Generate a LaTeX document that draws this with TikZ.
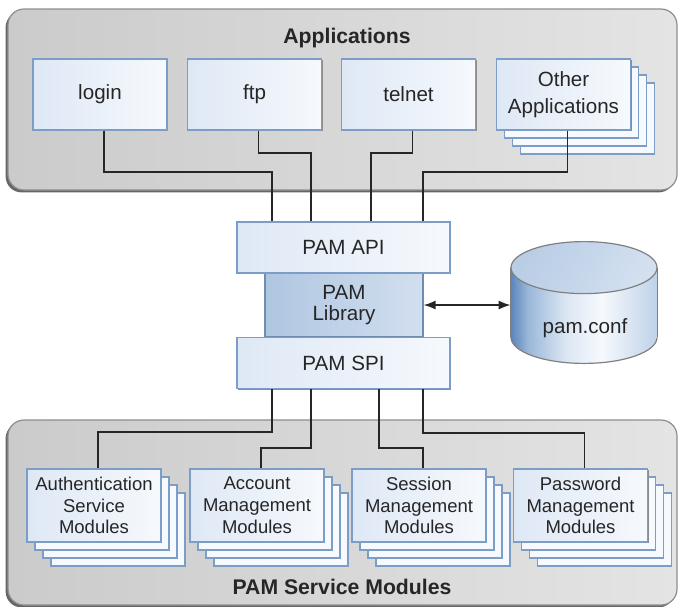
\documentclass[tikz,border=0pt]{standalone}
\usepackage{fontspec}
\setmainfont{Liberation Sans}
\usetikzlibrary{shadows,arrows.meta,calc}

\definecolor{panelgray}{HTML}{CBCBCB}
\definecolor{panellight}{HTML}{E4E4E4}
\definecolor{panelline}{HTML}{8E8E8E}
\definecolor{boxline}{HTML}{7C9DC6}
\definecolor{boxblue}{HTML}{DEE8F5}
\definecolor{boxwhite}{HTML}{F6F9FD}
\definecolor{libline}{HTML}{6F8DB3}
\definecolor{libblue}{HTML}{AFC6E1}
\definecolor{liblight}{HTML}{D2DFEF}
\definecolor{cyldark}{HTML}{5A85BA}
\definecolor{cylmid}{HTML}{9BB8DA}
\definecolor{cylpale}{HTML}{DCE7F3}
\definecolor{cyllight}{HTML}{BFD2E8}
\definecolor{capleft}{HTML}{B9CDE5}
\definecolor{capright}{HTML}{D3E0F0}

% cylinder body, stops kept inside 25bp--75bp
\pgfdeclarehorizontalshading{cylbody}{100bp}{color(0bp)=(cyldark); color(25bp)=(cyldark);
  color(31bp)=(cylmid); color(44bp)=(cylpale); color(56bp)=(boxwhite); color(75bp)=(cyllight);
  color(100bp)=(cyllight)}

\tikzset{
  panel/.style={draw=panelline, line width=0.6pt, rounded corners=8pt,
    left color=panelgray, middle color=panelgray, right color=panellight,
    drop shadow={shadow xshift=-1.2pt, shadow yshift=-1.2pt, fill=black!60, opacity=1}},
  paneltitle/.style={font=\fontsize{10.6}{12}\selectfont\bfseries, text=black!85},
  block/.style={draw=boxline, line width=0.6pt, left color=boxblue, right color=boxwhite,
    minimum width=67pt, minimum height=35.5pt, align=center, inner sep=1pt,
    font=\fontsize{10.3}{13.8}\selectfont, text=black!85,
    drop shadow={shadow xshift=0.6pt, shadow yshift=-0.6pt, fill=black!45, opacity=1}},
  copies/.style={
    copy shadow={shadow xshift=12pt, shadow yshift=-12pt, fill=boxwhite, draw=boxline, line width=0.6pt},
    copy shadow={shadow xshift=8pt, shadow yshift=-8pt, fill=boxwhite, draw=boxline, line width=0.6pt},
    copy shadow={shadow xshift=4pt, shadow yshift=-4pt, fill=boxwhite, draw=boxline, line width=0.6pt}},
  stacked/.style={copies, block},
  module/.style={copies, block, minimum height=36.5pt, font=\fontsize{9.25}{10.9}\selectfont},
  layer/.style={block, minimum width=106.5pt, minimum height=25.5pt},
  libblock/.style={block, draw=libline, left color=libblue, right color=liblight,
    minimum width=79pt, minimum height=32pt, font=\fontsize{10.3}{10.4}\selectfont},
  dbase/.style={minimum width=73pt, minimum height=60.5pt, inner sep=0pt},
  cylline/.style={draw=black!50, line width=0.6pt},
  wire/.style={draw=black!85, line width=0.6pt}
}

\begin{document}
\begin{tikzpicture}[x=0.5pt, y=-0.5pt]
  \useasboundingbox (0,0) rectangle (678,606);

  % panels
  \node[panel, minimum width=334.5pt, minimum height=90.5pt] (apps) at (342.5,99.5) {};
  \node[panel, minimum width=334.5pt, minimum height=92.5pt] (mods) at (342.5,512.5) {};
  \node[paneltitle] (appstitle) at (347,38) {Applications};
  \node[paneltitle] (modstitle) at (342,587) {PAM Service Modules};

  % applications
  \node[block] (login) at (100,94.5) {login};
  \node[block] (ftp) at (254.5,94.5) {ftp};
  \node[block] (telnet) at (408.5,94.5) {telnet};
  \node[stacked] (other) at (563.5,94.5) {Other\\Applications};

  % PAM framework
  \node[libblock] (lib) at (344,305) {PAM\\Library};
  \node[layer] (api) at (343.5,247.5) {PAM API};
  \node[layer] (spi) at (343.5,363) {PAM SPI};

  % pam.conf cylinder
  \node[dbase] (conf) at (584,302.5) {};
  \coordinate (captop) at ([yshift=-13pt]conf.north);
  \coordinate (capbot) at ([yshift=13pt]conf.south);
  \draw[cylline, shading=cylbody] (capbot) ellipse (36.5pt and 13pt);
  \path[shading=cylbody] ([yshift=-13pt]conf.north west) rectangle ([yshift=13pt]conf.south east);
  \draw[cylline] ([yshift=-13pt]conf.north west) -- ([yshift=13pt]conf.south west);
  \draw[cylline] ([yshift=-13pt]conf.north east) -- ([yshift=13pt]conf.south east);
  \draw[cylline, left color=capleft, middle color=white, right color=capright, shading angle=60]
    (captop) ellipse (36.5pt and 13pt);
  \node[font=\fontsize{10.3}{12}\selectfont, text=black!85] (conftext) at (585,328) {pam.conf};

  % modules
  \node[module] (auth) at (94,505.5) {Authentication\\Service\\Modules};
  \node[module] (acct) at (257,505.5) {Account\\Management\\Modules};
  \node[module] (sess) at (419,505.5) {Session\\Management\\Modules};
  \node[module] (pass) at (580.5,505.5) {Password\\Management\\Modules};

  % connections
  \foreach \app/\x/\y in {login/272/172, ftp/311/153, telnet/371/153, other/423/172}
    \draw[wire] ([xshift=2pt]\app.south) |- (\x,\y) -- (\x,0 |- api.north);
  \foreach \mod/\x/\y in {auth/272/432, acct/311/448, sess/379/448, pass/423/433}
    \draw[wire] (\x,0 |- spi.south) -- (\x,\y) -| ([xshift=2pt]\mod.north);
  \draw[wire, line width=0.8pt, {Latex[length=6pt,width=4.5pt]}-{Latex[length=6pt,width=4.5pt]}]
    (lib.east) -- (lib.east -| conf.west);
\end{tikzpicture}
\end{document}
